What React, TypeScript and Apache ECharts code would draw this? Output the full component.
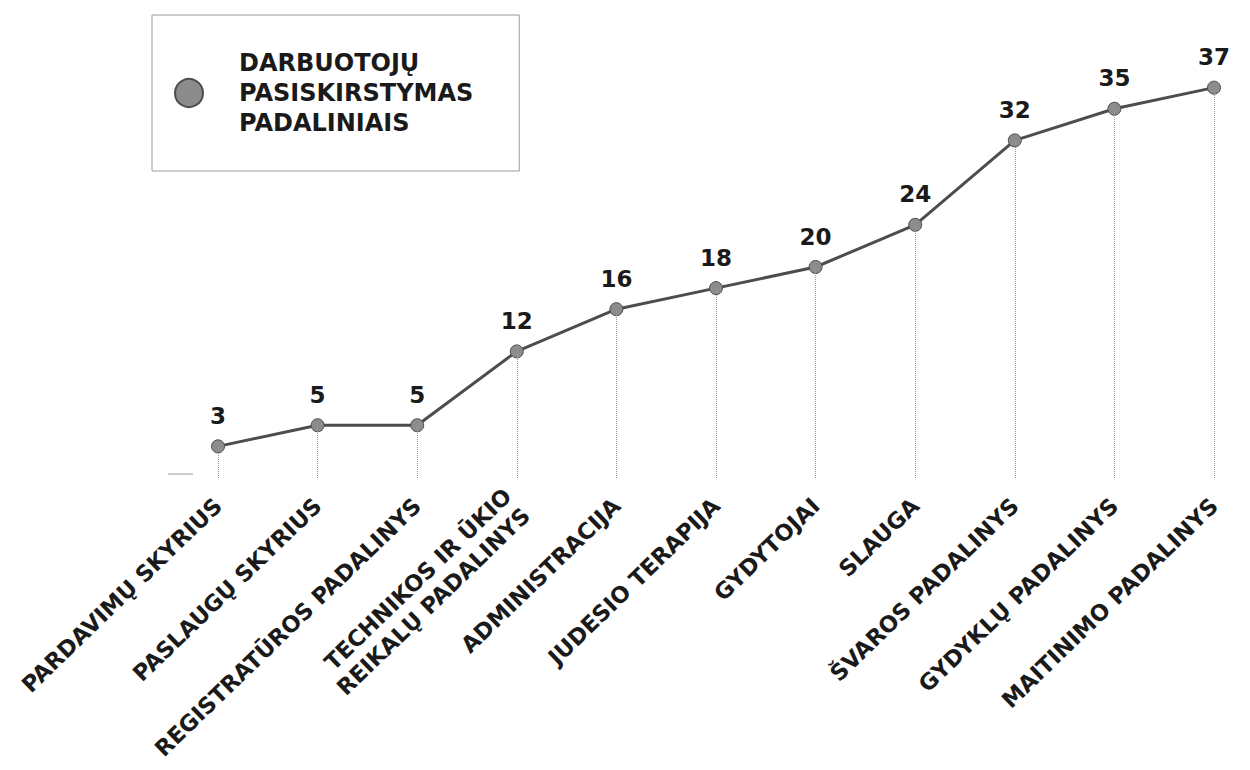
import React, { useEffect, useRef } from "react";
import * as echarts from "echarts";

const seriesName = "DARBUOTOJŲ\nPASISKIRSTYMAS\nPADALINIAIS";
const categories = [
  "PARDAVIMŲ SKYRIUS",
  "PASLAUGŲ SKYRIUS",
  "REGISTRATŪROS PADALINYS",
  "TECHNIKOS IR ŪKIO\nREIKALŲ PADALINYS",
  "ADMINISTRACIJA",
  "JUDESIO TERAPIJA",
  "GYDYTOJAI",
  "SLAUGA",
  "ŠVAROS PADALINYS",
  "GYDYKLŲ PADALINYS",
  "MAITINIMO PADALINYS",
];
const values = [3, 5, 5, 12, 16, 18, 20, 24, 32, 35, 37];

const FONT = "'DejaVu Sans', sans-serif";

export default function App() {
  const ref = useRef<HTMLDivElement>(null);
  useEffect(() => {
    if (!ref.current) return;
    const chart = echarts.init(ref.current, undefined, { renderer: "svg" });
    chart.setOption({
      animation: false,
      backgroundColor: "#ffffff",
      legend: {
        left: 152,
        top: 15,
        orient: "vertical",
        borderColor: "#9a9a9a",
        borderWidth: 1,
        padding: [33, 46, 33, 22],
        itemWidth: 28,
        itemHeight: 28,
        icon: "circle",
        textStyle: {
          fontFamily: FONT,
          fontWeight: "bold",
          fontSize: 24,
          lineHeight: 30,
          color: "#1a1a1a",
          padding: [0, 0, 0, 31],
        },
        data: [seriesName],
      },
      grid: { left: 218, right: 36, top: 56, bottom: 292, containLabel: false },
      xAxis: {
        type: "category",
        data: categories,
        boundaryGap: false,
        axisLine: { show: false },
        axisTick: { show: false },
        axisLabel: {
          rotate: 44,
          margin: 24,
          interval: 0,
          fontFamily: FONT,
          fontWeight: "bold",
          fontSize: 22.5,
          lineHeight: 27,
          color: "#1a1a1a",
        },
      },
      yAxis: {
        type: "value",
        min: 0,
        max: 40,
        show: false,
        splitLine: { show: false },
      },
      graphic: [
        {
          type: "line",
          shape: { x1: 168, y1: 474, x2: 193, y2: 474 },
          style: { stroke: "#9a9a9a", lineWidth: 1 },
        },
      ],
      series: [
        {
          name: seriesName,
          type: "line",
          data: values,
          symbol: "circle",
          symbolSize: 13,
          lineStyle: { color: "#4d4d4d", width: 3 },
          itemStyle: { color: "#8c8c8c", borderColor: "#4d4d4d", borderWidth: 1 },
          label: {
            show: true,
            position: "top",
            distance: 12,
            fontFamily: FONT,
            fontWeight: "bold",
            fontSize: 23,
            color: "#1a1a1a",
          },
          markLine: {
            silent: true,
            symbol: ["none", "none"],
            label: { show: false },
            lineStyle: { color: "#9a9a9a", type: "dotted", width: 1 },
            data: values.map((v, i) => [
              { coord: [categories[i], 0] },
              { coord: [categories[i], v] },
            ]),
          },
        },
      ],
    });
    return () => chart.dispose();
  }, []);
  return <div ref={ref} style={{ width: 1250, height: 770, marginLeft: -8, marginTop: -8 }} />;
}
